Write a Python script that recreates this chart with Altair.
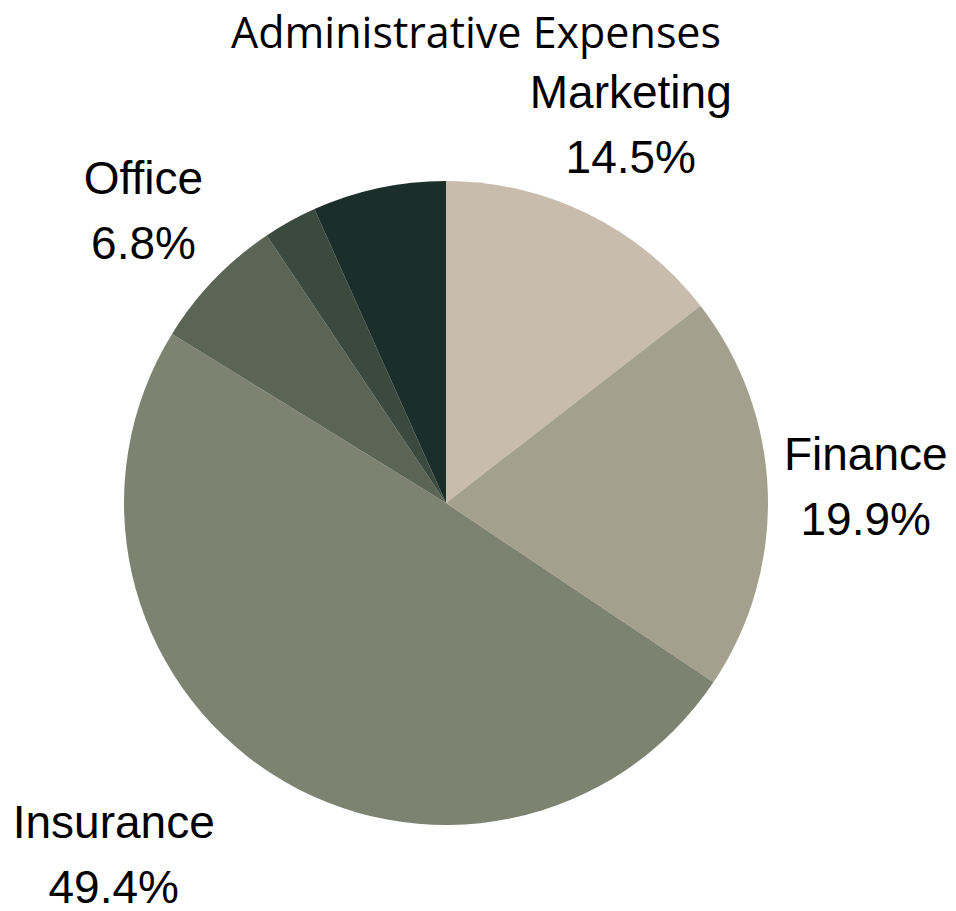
import altair as alt
import pandas as pd

categories = ["Marketing", "Finance", "Insurance", "Office", "Supplies", "Other"]
shares = [14.5, 19.9, 49.4, 6.8, 2.7, 6.7]
colors = ["#c8bcad", "#a3a08d", "#7e8371", "#5a6555", "#3a4a3f", "#1c2e29"]
labeled = [True, True, True, True, False, False]

df = pd.DataFrame({
    "category": categories,
    "share": shares,
    "idx": list(range(len(categories))),
    "labeled": labeled,
})

base = alt.Chart(df).encode(
    theta=alt.Theta("share:Q", stack=True),
    order=alt.Order("idx:Q"),
    x=alt.value(438),
    y=alt.value(435),
)

pie = base.mark_arc(radius=322).encode(
    color=alt.Color("category:N", scale=alt.Scale(domain=categories, range=colors), legend=None)
)

txt_common = dict(radius=420, font="Liberation Sans", fontSize=46, lineBreak="\n",
                  lineHeight=65, color="black", align="center", baseline="middle", dy=-32)

labels_main = base.transform_calculate(
    txt="datum.labeled && datum.category != 'Insurance' ? datum.category + '\\n' + format(datum.share, '.1f') + '%' : ''"
).mark_text(**txt_common).encode(text="txt:N")

labels_ins = base.transform_calculate(
    txt="datum.labeled && datum.category == 'Insurance' ? datum.category + '\\n' + format(datum.share, '.1f') + '%' : ''"
).mark_text(dx=-105, **txt_common).encode(text="txt:N")

chart = alt.layer(pie, labels_main, labels_ins).properties(
    width=940,
    height=835,
    padding={"top": 60, "left": 0, "right": 0, "bottom": 0},
    autosize=alt.AutoSizeParams(type="none"),
    title=alt.TitleParams(
        "Administrative Expenses", font="Open Sans", fontSize=43, fontWeight="normal",
        color="black", anchor="middle", baseline="alphabetic", offset=-54, frame="group", dx=-2,
    ),
).configure_view(stroke=None)

chart.save("out.html", embed_options={"renderer": "svg", "actions": False})
